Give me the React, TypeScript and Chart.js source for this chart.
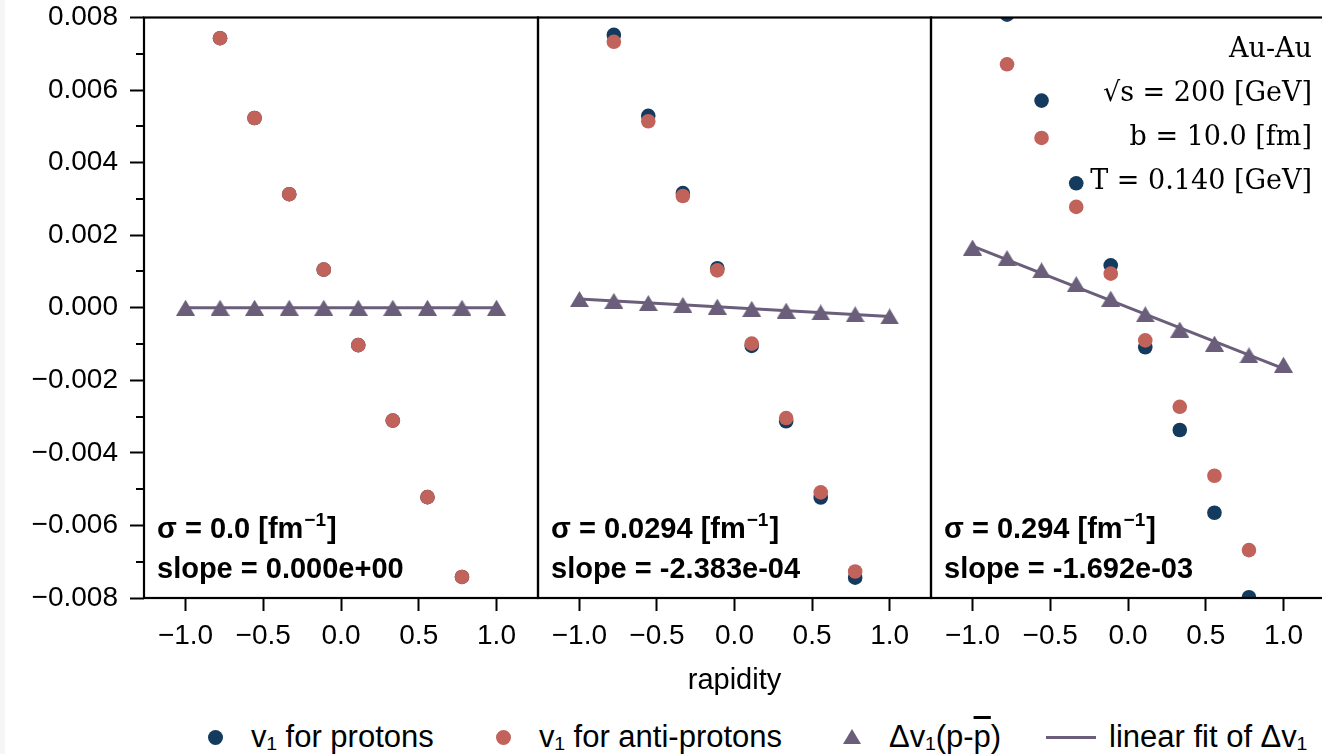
import React, { useEffect, useRef } from "react";
import { Chart, registerables } from "chart.js";

Chart.register(...registerables);

// ---------- data ----------
const rapidity = [-1.0, -0.778, -0.556, -0.333, -0.111, 0.111, 0.333, 0.556, 0.778, 1.0];
const fitX = [-1.0, 1.0];

const xTickValues = [-1, -0.5, 0, 0.5, 1];
const xTickLabels = ["−1.0", "−0.5", "0.0", "0.5", "1.0"];
const yTickValues = [-0.008, -0.006, -0.004, -0.002, 0, 0.002, 0.004, 0.006, 0.008];
const yTickLabels = ["−0.008", "−0.006", "−0.004", "−0.002", "0.000", "0.002", "0.004", "0.006", "0.008"];
const yMinorTicks = [-0.007, -0.005, -0.003, -0.001, 0.001, 0.003, 0.005, 0.007];

const sigmaLabels = ["0.0", "0.0294", "0.294"];
const slopeLabels = ["0.000e+00", "-2.383e-04", "-1.692e-03"];
const infoLines = ["Au-Au", "√s = 200 [GeV]", "b = 10.0 [fm]", "T = 0.140 [GeV]"];

// panel 1: sigma = 0.0
const protons1 = [null, 0.00743, 0.00523, 0.00313, 0.00105, -0.00103, -0.00311, -0.00522, -0.00742, null];
const antiprotons1 = [null, 0.00743, 0.00523, 0.00313, 0.00105, -0.00103, -0.00311, -0.00522, -0.00742, null];
const delta1 = [0, 0, 0, 0, 0, 0, 0, 0, 0, 0];
const fit1 = [0, 0];

// panel 2: sigma = 0.0294
const protons2 = [null, 0.00752, 0.00529, 0.00316, 0.00109, -0.00105, -0.00313, -0.00523, -0.00744, null];
const antiprotons2 = [null, 0.00733, 0.00514, 0.00308, 0.00103, -0.00099, -0.00304, -0.00509, -0.00727, null];
const delta2 = [0.00024, 0.00019, 0.00013, 0.00008, 0.00003, -0.00003, -0.00008, -0.00013, -0.00018, -0.00024];
const fit2 = [0.000238, -0.000238];

// panel 3: sigma = 0.294
const protons3 = [null, 0.00808, 0.00571, 0.00343, 0.00117, -0.00109, -0.00337, -0.00565, -0.00798, null];
const antiprotons3 = [null, 0.00671, 0.00468, 0.00278, 0.00094, -0.0009, -0.00273, -0.00463, -0.00668, null];
const delta3 = [0.00166, 0.00137, 0.00103, 0.00065, 0.00025, -0.00018, -0.0006, -0.00099, -0.00131, -0.00157];
const fit3 = [0.0017, -0.00168];

const protonsAll = [protons1, protons2, protons3];
const antiprotonsAll = [antiprotons1, antiprotons2, antiprotons3];
const deltaAll = [delta1, delta2, delta3];
const fitAll = [fit1, fit2, fit3];

// ---------- style ----------
const BLUE = "#143a5d";
const RED = "#c1625b";
const PURPLE = "#6a5e7a";
const SANS = "'Liberation Sans', Arial, sans-serif";
const SERIF = "'DejaVu Serif', serif";
const TICK_FS = 28;
const LABEL_FS = 29;
const LEGEND_FS = 31;

const CANVAS_H = 698;
const AREA_TOP = 17.5;
const AREA_BOTTOM = 598;
// chart-area horizontal extents of the three panels
const PANELS = [
  { left: 144, right: 538 },
  { left: 538, right: 931 },
  { left: 931, right: 1325 },
];
const PAD = 10;

function toPoints(xs: number[], ys: (number | null)[]) {
  const out: { x: number; y: number }[] = [];
  xs.forEach((x, i) => {
    const y = ys[i];
    if (y !== null && y !== undefined) out.push({ x, y });
  });
  return out;
}

function makeTriangle(w: number, h: number, color: string) {
  const c = document.createElement("canvas");
  c.width = w;
  c.height = h;
  const g = c.getContext("2d")!;
  g.fillStyle = color;
  g.beginPath();
  g.moveTo(w / 2, 0);
  g.lineTo(w, h);
  g.lineTo(0, h);
  g.closePath();
  g.fill();
  return c;
}

function Panel({ p }: { p: number }) {
  const ref = useRef<HTMLCanvasElement | null>(null);
  const geo = PANELS[p];
  const canvasLeft = p === 0 ? 0 : geo.left - PAD;
  const canvasW = geo.right + PAD - canvasLeft;

  useEffect(() => {
    if (!ref.current) return;
    const tri = makeTriangle(19, 16, PURPLE);

    const annot = {
      id: "annot" + p,
      afterDatasetsDraw(chart: any) {
        const { ctx, chartArea: a } = chart;
        ctx.save();
        // frame (spines)
        ctx.strokeStyle = "#000";
        ctx.lineWidth = 2.2;
        ctx.strokeRect(a.left, a.top, a.right - a.left, a.bottom - a.top);
        // minor y ticks (first panel only)
        if (p === 0) {
          const ys = chart.scales.y;
          ctx.lineWidth = 2;
          ctx.beginPath();
          yMinorTicks.forEach((v) => {
            const py = Math.round(ys.getPixelForValue(v));
            ctx.moveTo(a.left - 8, py);
            ctx.lineTo(a.left, py);
          });
          ctx.stroke();
        }
        // sigma / slope annotation
        ctx.fillStyle = "#000";
        ctx.textAlign = "left";
        ctx.textBaseline = "alphabetic";
        const x0 = a.left + 13;
        const y1 = a.bottom - 60;
        const y2 = a.bottom - 20;
        const s1 = `σ = ${sigmaLabels[p]} [fm`;
        ctx.font = `bold ${LABEL_FS}px ${SANS}`;
        ctx.fillText(s1, x0, y1);
        const w1 = ctx.measureText(s1).width;
        ctx.font = `bold 19px ${SANS}`;
        ctx.fillText("−1", x0 + w1 + 1, y1 - 12);
        const w2 = ctx.measureText("−1").width;
        ctx.font = `bold ${LABEL_FS}px ${SANS}`;
        ctx.fillText("]", x0 + w1 + w2 + 2, y1);
        ctx.fillText(`slope = ${slopeLabels[p]}`, x0, y2);
        // system info (last panel)
        if (p === 2) {
          ctx.font = `27px ${SERIF}`;
          ctx.textAlign = "right";
          infoLines.forEach((t, i) => {
            ctx.fillText(t, 1312 - canvasLeft, 57 + i * 44);
          });
        }
        ctx.restore();
      },
    };

    const chart = new Chart(ref.current, {
      type: "scatter",
      data: {
        datasets: [
          {
            label: "v₁ for protons",
            data: toPoints(rapidity, protonsAll[p]),
            backgroundColor: BLUE,
            borderWidth: 0,
            pointRadius: 7.3,
            order: 4,
            clip: 0,
          },
          {
            label: "v₁ for anti-protons",
            data: toPoints(rapidity, antiprotonsAll[p]),
            backgroundColor: RED,
            borderWidth: 0,
            pointRadius: 7.3,
            order: 3,
            clip: 0,
          },
          {
            label: "Δv₁(p-p̄)",
            data: toPoints(rapidity, deltaAll[p]),
            backgroundColor: PURPLE,
            borderWidth: 0,
            pointStyle: tri as any,
            pointRadius: 9,
            order: 1,
            clip: 0,
          },
          {
            type: "line",
            label: "linear fit of Δv₁",
            data: toPoints(fitX, fitAll[p]),
            borderColor: PURPLE,
            borderWidth: 3,
            pointRadius: 0,
            showLine: true,
            fill: false,
            order: 2,
            clip: 0,
          } as any,
        ],
      },
      options: {
        responsive: false,
        animation: false,
        devicePixelRatio: 1,
        events: [],
        layout: {
          padding: { top: AREA_TOP, bottom: 0, left: p === 0 ? 0 : PAD, right: PAD },
        },
        plugins: { legend: { display: false }, tooltip: { enabled: false } },
        scales: {
          x: {
            type: "linear",
            min: -1.267,
            max: 1.267,
            afterBuildTicks: (s: any) => {
              s.ticks = xTickValues.map((v) => ({ value: v }));
            },
            afterFit: (s: any) => {
              s.height = CANVAS_H - AREA_BOTTOM;
              s.paddingLeft = 0;
              s.paddingRight = 0;
            },
            ticks: {
              callback: (_v: any, i: number) => xTickLabels[i],
              font: { family: SANS, size: TICK_FS },
              color: "#000",
              padding: 8,
              maxRotation: 0,
              autoSkip: false,
            },
            grid: {
              drawOnChartArea: false,
              drawTicks: true,
              tickLength: 13,
              tickWidth: 2,
              tickColor: "#000",
            },
            border: { display: false },
            title: {
              display: p === 1,
              text: "rapidity",
              font: { family: SANS, size: LABEL_FS, lineHeight: 1.2 },
              color: "#000",
              padding: { top: 0, bottom: 0 },
            },
          },
          y: {
            type: "linear",
            display: p === 0,
            min: -0.008,
            max: 0.008,
            afterBuildTicks: (s: any) => {
              s.ticks = yTickValues.map((v) => ({ value: v }));
            },
            afterFit: (s: any) => {
              s.width = p === 0 ? 144 : 0;
              s.paddingTop = 0;
              s.paddingBottom = 0;
            },
            ticks: {
              callback: (_v: any, i: number) => yTickLabels[i],
              font: { family: SANS, size: TICK_FS },
              color: "#000",
              padding: 12,
              autoSkip: false,
            },
            grid: {
              drawOnChartArea: false,
              drawTicks: true,
              tickLength: 14,
              tickWidth: 2,
              tickColor: "#000",
            },
            border: { display: false },
          },
        },
      },
      plugins: [annot],
    });
    return () => chart.destroy();
  }, [p]);

  return (
    <canvas
      ref={ref}
      width={canvasW}
      height={CANVAS_H}
      style={{ position: "absolute", left: canvasLeft, top: 0, width: canvasW, height: CANVAS_H }}
    />
  );
}

const legendText: React.CSSProperties = {
  position: "absolute",
  top: 720,
  height: 34,
  lineHeight: "34px",
  fontFamily: SANS,
  fontSize: LEGEND_FS,
  color: "#000",
  whiteSpace: "nowrap",
};

function Dot({ cx, color }: { cx: number; color: string }) {
  return (
    <div
      style={{
        position: "absolute",
        left: cx - 7.5,
        top: 737 - 7.5,
        width: 15,
        height: 15,
        borderRadius: "50%",
        background: color,
      }}
    />
  );
}

export default function App() {
  useEffect(() => {
    document.body.style.margin = "0";
    document.body.style.overflow = "hidden";
  }, []);

  return (
    <div
      style={{
        position: "fixed",
        left: 0,
        top: 0,
        width: 1322,
        height: 754,
        overflow: "hidden",
        background: "#fff",
      }}
    >
      <div style={{ position: "absolute", left: 0, top: 0, width: 5, height: 754, background: "#f6f6f6" }} />
      <Panel p={0} />
      <Panel p={1} />
      <Panel p={2} />
      {/* legend */}
      <Dot cx={215} color={BLUE} />
      <div style={{ ...legendText, left: 251 }}>v₁ for protons</div>
      <Dot cx={503} color={RED} />
      <div style={{ ...legendText, left: 539 }}>v₁ for anti-protons</div>
      <svg style={{ position: "absolute", left: 852 - 9, top: 737 - 8 }} width={18} height={15}>
        <polygon points="9,0 18,15 0,15" fill={PURPLE} />
      </svg>
      <div style={{ ...legendText, left: 889 }}>
        Δv₁(p-<span style={{ textDecoration: "overline" }}>p</span>)
      </div>
      <div style={{ position: "absolute", left: 1046, top: 735.5, width: 50, height: 3, background: PURPLE }} />
      <div style={{ ...legendText, left: 1109 }}>linear fit of Δv₁</div>
    </div>
  );
}
